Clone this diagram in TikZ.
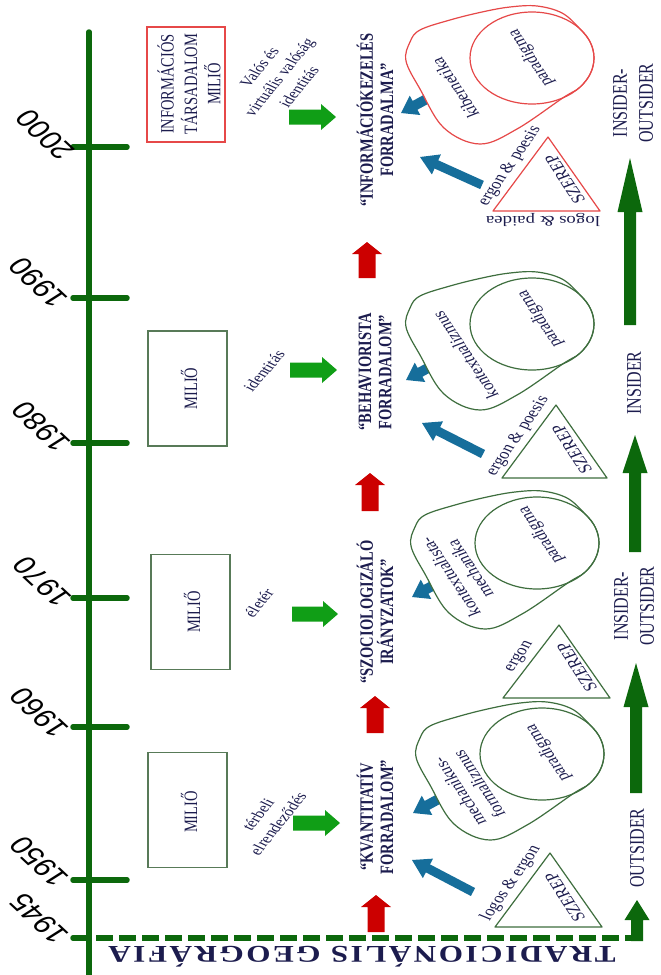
\documentclass[tikz,border=0pt]{standalone}
\usepackage{fontspec}
\setmainfont{Liberation Serif}
\newfontfamily\yearfont{Liberation Sans}
\usetikzlibrary{calc}
\newcommand{\myfs}[2]{\fontsize{#1}{#2}\selectfont}
\newcommand{\blockarrow}[6]{%
  \coordinate (bah) at ($(#2)!#5!(#1)$);
  \fill[#6] ($(#1)!#3!90:(#2)$) -- ($(bah)!#3!90:(#2)$) -- ($(bah)!#4!90:(#2)$) -- (#2)
    -- ($(bah)!#4!-90:(#2)$) -- ($(bah)!#3!-90:(#2)$) -- ($(#1)!#3!-90:(#2)$) -- cycle;}
\newcommand{\blobshape}[4]{%
  \begin{scope}[shift={(#2,#3)}]
    \draw[draw=#4, line width=1.2pt, fill=white] plot[smooth cycle, tension=0.6] coordinates
      {(-22,-51) (5,-52) (30,-45) (47.5,-29.6) (58.3,-15.7) (62,0) (58.3,15.7) (47.5,29.6) (31,39.8)
       (-15,71) (-52,86) (-88,70) (-112,31) (-126,3) (-122,-16) (-112,-28) (-82,-38) (-50,-46)};
    \draw[draw=#4, line width=1.2pt] (0,0) ellipse [x radius=62pt, y radius=46pt];
    \coordinate (#1) at (0,0);
  \end{scope}}
\definecolor{tlgreen}{RGB}{12,104,12}
\definecolor{brgreen}{RGB}{16,158,22}
\definecolor{arred}{RGB}{204,0,0}
\definecolor{arblue}{RGB}{22,110,155}
\definecolor{navy}{RGB}{28,28,78}
\definecolor{boxgreen}{RGB}{88,122,88}
\definecolor{blobgreen}{RGB}{62,110,62}
\definecolor{blobred}{RGB}{230,72,72}
\tikzset{
  tl/.style={draw=tlgreen, line width=5.5pt, line cap=round},
  milbox/.style={draw=boxgreen, line width=1.2pt, minimum width=79pt, minimum height=115pt, inner sep=0pt},
  redbox/.style={draw=blobred, line width=1.2pt, minimum width=78pt, minimum height=115pt, inner sep=0pt},
  basetxt/.style={text=navy, inner sep=0pt, align=center, font=\myfs{14.5}{17}},
  milt/.style={basetxt, xscale=1.3, rotate=90},
  lab/.style={basetxt, font=\myfs{13.5}{18}, xscale=1.3},
  rev/.style={basetxt, xscale=1.3, rotate=90, font=\bfseries\myfs{14.5}{15.5}},
  side/.style={basetxt, xscale=1.3, rotate=90, font=\myfs{16}{20}},
  rt/.style={basetxt, xscale=1.3, rotate=117},
  lt/.style={basetxt, xscale=1.3, rotate=61.7},
  year/.style={inner sep=0pt, xscale=1.3, rotate=129.5, font=\yearfont\myfs{25}{25}},
  title/.style={text=navy, inner sep=0pt, xscale=1.3, rotate=180, font=\bfseries\myfs{24}{24}\addfontfeature{LetterSpace=8}},
  tri/.style={line width=1.2pt, line join=round},
}
\begin{document}
\begin{tikzpicture}[x=1pt,y=-1pt]
\useasboundingbox (0,0) rectangle (661,975);
\fill[white] (0,0) rectangle (661,975);
% timeline
\coordinate (tltop) at (89,32);
\coordinate (tlbot) at (89,980);
\draw[tl] (tltop) -- (tlbot);
\foreach \yr/\yy/\lx/\ly in {2000/147/45/135, 1990/298/38/283, 1980/443/41/427, 1970/598/42/582, 1960/727/39/713, 1950/880/39/862} {
  \coordinate (tkl\yr) at (73,\yy);
  \coordinate (tkr\yr) at (127,\yy);
  \draw[tl] (tkl\yr) -- (tkr\yr);
  \node[year] (yr\yr) at (\lx,\ly) {\yr};
}
\coordinate (tkl1945) at (73,938);
\coordinate (tkr1945) at (89,938);
\draw[tl] (tkl1945) -- (tkr1945);
\node[year] (yr1945) at (39,919) {1945};
\coordinate (dashs) at (96,938);
\coordinate (dashe) at (633,938);
\draw[draw=tlgreen, line width=5.5pt, dash pattern=on 17pt off 6pt] (dashs) -- (dashe);
\node[title] (trad) at (362,957) {TRADICIONÁLIS GEOGRÁFIA};

% dark green vertical arrows
\coordinate (dA1) at (637,941); \coordinate (dA2) at (637,900);
\blockarrow{dA1}{dA2}{6pt}{12.5pt}{20pt}{tlgreen}
\coordinate (dB1) at (636,793); \coordinate (dB2) at (636,663);
\blockarrow{dB1}{dB2}{6pt}{12.5pt}{44pt}{tlgreen}
\coordinate (dC1) at (635,552); \coordinate (dC2) at (635,435);
\blockarrow{dC1}{dC2}{6pt}{12.5pt}{38pt}{tlgreen}
\coordinate (dD1) at (630,325); \coordinate (dD2) at (630,158);
\blockarrow{dD1}{dD2}{6pt}{12.5pt}{54pt}{tlgreen}
\node[side] (io1) at (633,103) {INSIDER-\\OUTSIDER};
\node[side] (ins) at (634,383) {INSIDER};
\node[side] (io2) at (634,606) {INSIDER-\\OUTSIDER};
\node[side] (out) at (637,848) {OUTSIDER};

% revolution labels
\node[rev] (rev2000) at (375,120) {“INFORMÁCIÓKEZELÉS\\FORRADALMA”};
\node[rev] (rev1980) at (375,372) {“BEHAVIORISTA\\FORRADALOM”};
\node[rev] (rev1970) at (375,612) {“SZOCIOLOGIZÁLÓ\\IRÁNYZATOK”};
\node[rev] (rev1950) at (375,817) {“KVANTITATÍV\\FORRADALOM”};

% red up arrows
\coordinate (rA1) at (367,278); \coordinate (rA2) at (367,242);
\blockarrow{rA1}{rA2}{8.5pt}{15pt}{12pt}{arred}
\coordinate (rB1) at (370,511); \coordinate (rB2) at (370,473);
\blockarrow{rB1}{rB2}{8.5pt}{15pt}{12pt}{arred}
\coordinate (rC1) at (375,733); \coordinate (rC2) at (375,696);
\blockarrow{rC1}{rC2}{8.5pt}{15pt}{12pt}{arred}
\coordinate (rD1) at (376,932); \coordinate (rD2) at (376,895);
\blockarrow{rD1}{rD2}{8.5pt}{15pt}{12pt}{arred}

% green right arrows
\coordinate (gA1) at (289,117); \coordinate (gA2) at (336,117);
\blockarrow{gA1}{gA2}{7.5pt}{13pt}{15pt}{brgreen}
\coordinate (gB1) at (290,370); \coordinate (gB2) at (337,370);
\blockarrow{gB1}{gB2}{7.5pt}{13pt}{15pt}{brgreen}
\coordinate (gC1) at (292,614); \coordinate (gC2) at (338,614);
\blockarrow{gC1}{gC2}{7.5pt}{13pt}{15pt}{brgreen}
\coordinate (gD1) at (293,823); \coordinate (gD2) at (340,823);
\blockarrow{gD1}{gD2}{7.5pt}{13pt}{15pt}{brgreen}

% milieu boxes
\node[redbox] (box2000) at (186,84.5) {};
\node[milt, font=\myfs{14.5}{18}] (mil2000) at (189,84) {INFORMÁCIÓS\\TÁRSADALOM\\MILIŐ};
\node[milbox] (box1980) at (187.5,388.5) {};
\node[milt] (mil1980) at (189,388.5) {MILIŐ};
\node[milbox] (box1970) at (190.5,612) {};
\node[milt] (mil1970) at (192,612) {MILIŐ};
\node[milbox] (box1950) at (187.5,810) {};
\node[milt] (mil1950) at (189,812) {MILIŐ};
\node[lab, rotate=58] (lab2000) at (279,77) {Valós és\\virtuális valóság\\identitás};
\node[lab, rotate=56] (lab1980) at (264,371) {identitás};
\node[lab, rotate=57] (lab1970) at (259,603) {életér};
\node[lab, rotate=58] (lab1950) at (268,819) {térbeli\\elrendeződés};

% blue arrows
\coordinate (bA1) at (434,95); \coordinate (bA2) at (401,113);
\blockarrow{bA1}{bA2}{5pt}{11pt}{16pt}{arblue}
\coordinate (bB1) at (439,362); \coordinate (bB2) at (406,380);
\blockarrow{bB1}{bB2}{5pt}{11pt}{16pt}{arblue}
\coordinate (bC1) at (445,579); \coordinate (bC2) at (412,597);
\blockarrow{bC1}{bC2}{5pt}{11pt}{16pt}{arblue}
\coordinate (bD1) at (446,795); \coordinate (bD2) at (413,813);
\blockarrow{bD1}{bD2}{5pt}{11pt}{16pt}{arblue}
\coordinate (cA1) at (482,185); \coordinate (cA2) at (420,157);
\blockarrow{cA1}{cA2}{4.5pt}{11pt}{18pt}{arblue}
\coordinate (cB1) at (483,454); \coordinate (cB2) at (422,423);
\blockarrow{cB1}{cB2}{4.5pt}{11pt}{18pt}{arblue}
\coordinate (cD1) at (473,892); \coordinate (cD2) at (412,860);
\blockarrow{cD1}{cD2}{4.5pt}{11pt}{18pt}{arblue}

% blobs
\blobshape{bl2000}{532}{58}{blobred}
\blobshape{bl1980}{532}{324}{blobgreen}
\blobshape{bl1970}{537}{543}{blobgreen}
\blobshape{bl1950}{542}{754}{blobgreen}

% triangles
\coordinate (tA1) at (493,211); \coordinate (tA2) at (600,211); \coordinate (tA3) at (548,137);
\draw[tri, draw=blobred] (tA1) -- (tA2) -- (tA3) -- cycle;
\coordinate (tB1) at (502,478); \coordinate (tB2) at (607,478); \coordinate (tB3) at (556,405);
\draw[tri, draw=blobgreen] (tB1) -- (tB2) -- (tB3) -- cycle;
\coordinate (tC1) at (503,698); \coordinate (tC2) at (610,698); \coordinate (tC3) at (559,625);
\draw[tri, draw=blobgreen] (tC1) -- (tC2) -- (tC3) -- cycle;
\coordinate (tD1) at (495,927); \coordinate (tD2) at (602,927); \coordinate (tD3) at (550,853);
\draw[tri, draw=blobgreen] (tD1) -- (tD2) -- (tD3) -- cycle;

% texts of blobs and triangles
\node[lt] (eg2000) at (510,166) {ergon \& poesis};
\node[rt] (sz2000) at (565,179) {SZEREP};
\node[basetxt, xscale=1.3, rotate=180] (lp2000) at (543,220) {logos \& paidea};
\node[rt] (pd2000) at (531,58) {paradigma};
\node[rt] (kb2000) at (455,88) {kibernetika};

\node[rt] (kx1980) at (465,355) {kontextualizmus};
\node[rt] (pd1980) at (540,319) {paradigma};
\node[lt] (eg1980) at (518,436) {ergon \& poesis};
\node[rt] (sz1980) at (572,449) {SZEREP};

\node[rt, font=\myfs{14.5}{17}] (km1970) at (460,573) {kontextualista-\\mechanika};
\node[rt] (pd1970) at (541,535) {paradigma};
\node[lt] (eg1960) at (520,657) {ergon};
\node[rt] (sz1960) at (577,667) {SZEREP};

\node[rt, font=\myfs{14.5}{17}] (mf1950) at (469,788) {mechanikus-\\formalizmus};
\node[rt] (pd1950) at (548,753) {paradigma};
\node[lt] (lg1945) at (511,883) {logos \& ergon};
\node[rt] (sz1945) at (565,897) {SZEREP};
\end{tikzpicture}
\end{document}
